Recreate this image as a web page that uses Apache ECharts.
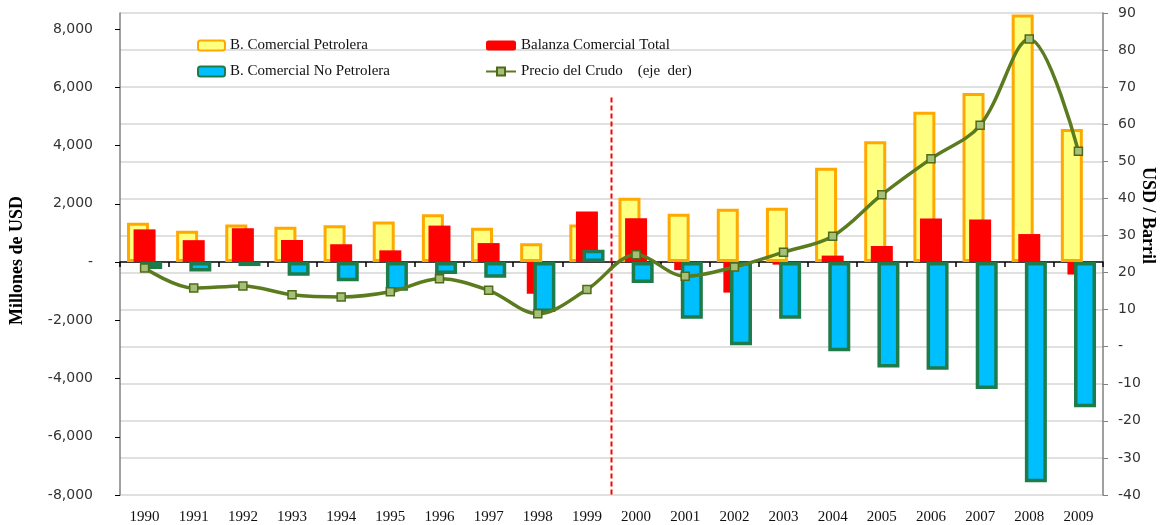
<!DOCTYPE html>
<html>
<head>
<meta charset="utf-8">
<script src="https://cdn.jsdelivr.net/npm/echarts@6/dist/echarts.min.js"></script>
<style>
  html, body { margin: 0; padding: 0; background: #fff; }
  #chart { width: 1163px; height: 525px; }
</style>
</head>
<body>
<div id="chart"></div>
<script>
// datos (millones de USD y USD/barril)
var years = ['1990','1991','1992','1993','1994','1995','1996','1997','1998','1999',
             '2000','2001','2002','2003','2004','2005','2006','2007','2008','2009'];
var petrolera   = [1350, 1070, 1290, 1210, 1260, 1390, 1640, 1180, 640, 1290,
                   2210, 1660, 1830, 1865, 3240, 4150, 5160, 5800, 8500, 4570];
var total       = [1120, 750, 1160, 755, 610, 400, 1250, 650, -1090, 1730,
                   1500, -280, -1050, -90, 220, 550, 1490, 1460, 960, -430];
var noPetrolera = [-240, -330, -140, -470, -660, -990, -410, -540, -1720, 420,
                   -720, -1950, -2860, -1950, -3060, -3620, -3700, -4360, -7560, -4990];
var precioCrudo = [21.2, 15.8, 16.4, 14.0, 13.4, 14.8, 18.3, 15.2, 8.9, 15.4,
                   24.8, 19.0, 21.5, 25.5, 29.8, 41.0, 50.7, 59.7, 83.0, 52.7];
// linea divisoria entre 1999 y 2000
var divisor = [[10, 5650], [10, -8000]];

var serif = 'Liberation Serif';
var myChart = echarts.init(document.getElementById('chart'));

var option = {
    animation: false,
    backgroundColor: '#fff',
    grid: { left: 120, right: 60, top: 13, bottom: 30, containLabel: false },
    legend: [
        {
            left: 197, top: 38, orient: 'vertical', padding: 0,
            itemWidth: 27, itemHeight: 10, itemGap: 11,
            textStyle: { fontFamily: serif, fontSize: 15, color: '#111' },
            data: ['B. Comercial Petrolera', 'B. Comercial No Petrolera']
        },
        {
            left: 485, top: 38, orient: 'vertical', padding: 0,
            itemWidth: 30, itemHeight: 10, itemGap: 11,
            textStyle: { fontFamily: serif, fontSize: 15, color: '#111' },
            data: ['Balanza Comercial Total', 'Precio del Crudo    (eje  der)']
        }
    ],
    xAxis: [
        {
            type: 'category',
            data: years,
            axisLine: { onZero: true, onZeroAxisIndex: 0, lineStyle: { color: '#000', width: 1.5 } },
            axisTick: { show: true, length: 5, lineStyle: { color: '#000', width: 1.5 } },
            axisLabel: { show: false },
            splitLine: { show: false }
        },
        {
            type: 'category',
            data: years,
            position: 'bottom',
            axisLine: { show: false, onZero: false },
            axisTick: { show: false },
            axisLabel: { fontFamily: serif, fontSize: 15, color: '#111', margin: 15 },
            splitLine: { show: false }
        },
        {
            type: 'value', min: 0, max: 20, show: false
        }
    ],
    yAxis: [
        {
            type: 'value',
            min: -8000, max: 8550, interval: 2000,
            axisLine: { show: true, onZero: false, lineStyle: { color: '#808080', width: 1.5 } },
            axisTick: { show: true, length: 5, lineStyle: { color: '#000' } },
            axisLabel: {
                showMaxLabel: false,
                margin: 27,
                fontFamily: 'DejaVu Sans', fontSize: 14, color: '#333',
                formatter: function (v) {
                    if (v % 2000 !== 0) return '';
                    return v === 0 ? '-' : v.toLocaleString('en-US');
                }
            },
            splitLine: { show: false }
        },
        {
            type: 'value',
            min: -40, max: 90, interval: 10,
            position: 'right',
            axisLine: { show: true, onZero: false, lineStyle: { color: '#808080', width: 1.5 } },
            axisTick: { show: true, length: 5, lineStyle: { color: '#808080' } },
            axisLabel: {
                margin: 15,
                fontFamily: 'DejaVu Sans', fontSize: 14, color: '#333',
                formatter: function (v) { return v === 0 ? '-' : v; }
            },
            splitLine: { show: true, lineStyle: { color: '#d6d6d6', width: 1.5 } }
        }
    ],
    graphic: [
        {
            type: 'text', left: 8, top: 196, rotation: Math.PI / 2,
            style: { text: 'Millones de USD', font: 'bold 18px "Liberation Serif"', fill: '#000' }
        },
        {
            type: 'text', left: 1139, top: 167, rotation: -Math.PI / 2,
            style: { text: 'USD / Barril', font: 'bold 18px "Liberation Serif"', fill: '#000' }
        }
    ],
    series: [
        {
            name: 'B. Comercial Petrolera',
            type: 'bar',
            barWidth: 22,
            barGap: '-70%',
            data: petrolera,
            itemStyle: { color: '#FFFF80', borderColor: '#FFA800', borderWidth: 3 }
        },
        {
            name: 'Balanza Comercial Total',
            type: 'bar',
            barWidth: 22,
            barGap: '-70%',
            data: total,
            itemStyle: { color: '#FF0000' }
        },
        {
            name: 'B. Comercial No Petrolera',
            type: 'bar',
            barWidth: 22,
            barGap: '-70%',
            data: noPetrolera,
            itemStyle: { color: '#00BFFF', borderColor: '#1E7B4A', borderWidth: 3.5 }
        },
        {
            name: 'divisor',
            type: 'line',
            xAxisIndex: 2,
            yAxisIndex: 0,
            data: divisor,
            symbol: 'none',
            silent: true,
            lineStyle: { color: '#FF0000', width: 2, type: [5, 3] },
            z: 3
        },
        {
            name: 'Precio del Crudo    (eje  der)',
            type: 'line',
            yAxisIndex: 1,
            data: precioCrudo,
            smooth: 0.35,
            symbol: 'rect',
            symbolSize: 8,
            lineStyle: { color: '#5B7B1F', width: 3.5 },
            itemStyle: { color: '#A6C07A', borderColor: '#4E6B1A', borderWidth: 1.5 },
            z: 5
        }
    ]
};

myChart.setOption(option);
</script>
</body>
</html>
